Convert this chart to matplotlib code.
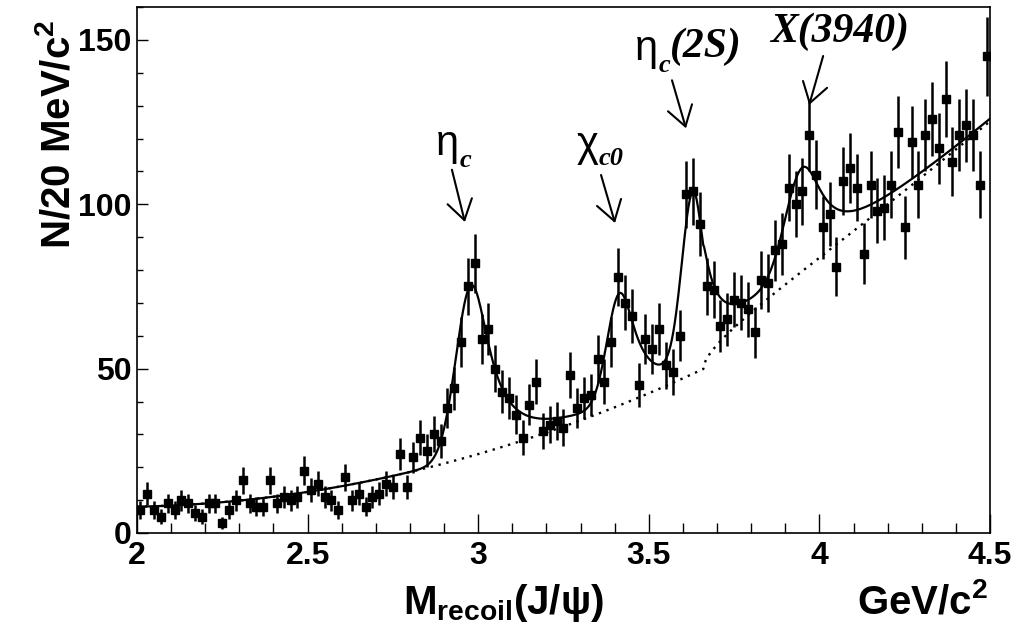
import numpy as np
import matplotlib
matplotlib.use("Agg")
import matplotlib.pyplot as plt

# ---- data: recoil mass against J/psi, 20 MeV/c^2 bins from 2.0 to 4.5 GeV/c^2
mass_lo, mass_hi, bin_width = 2.0, 4.5, 0.02
counts = [
    7, 12, 7, 5, 9, 7, 10, 9, 6, 5,
    9, 9, 3, 7, 10, 16, 9, 8, 8, 16,
    9, 11, 10, 11, 19, 13, 15, 11, 10, 7,
    17, 10, 12, 8, 11, 12, 15, 14, 24, 14,
    23, 29, 25, 30, 28, 38, 44, 58, 75, 82,
    59, 62, 50, 43, 41, 36, 29, 39, 46, 31,
    33, 34, 32, 48, 38, 41, 42, 53, 46, 58,
    78, 70, 66, 45, 59, 56, 62, 51, 49, 60,
    103, 104, 94, 75, 74, 63, 65, 71, 70, 68,
    61, 77, 76, 86, 88, 105, 100, 104, 121, 109,
    93, 97, 81, 107, 111, 105, 85, 106, 98, 99,
    106, 122, 93, 119, 106, 121, 126, 117, 132, 113,
    121, 124, 121, 106, 145,
]

# ---- fit model: polynomial background with an open-charm threshold term
bkg_poly = [8.0, 2.0, 14.0]          # coefficients in (M - 2)
threshold_mass, threshold_amp = 3.66, 27.0
# signal peaks: eta_c, chi_c0, eta_c(2S), X(3940)
peak_mass = [2.980, 3.415, 3.630, 3.950]
peak_amp = [52.0, 33.0, 53.0, 30.0]
peak_sigma_low = [0.045, 0.037, 0.033, 0.050]
peak_gamma_high = [0.13, 0.11, 0.085, 0.14]

W, H = 1026, 632
plt.rcParams["font.family"] = ["Liberation Sans", "DejaVu Sans"]
plt.rcParams["mathtext.fontset"] = "custom"
plt.rcParams["mathtext.rm"] = "Liberation Sans:bold"
plt.rcParams["mathtext.bf"] = "Liberation Sans:bold"
plt.rcParams["mathtext.it"] = "Liberation Sans:bold"


def background(m):
    t = m - 2.0
    val = sum(c * t ** i for i, c in enumerate(bkg_poly))
    return val + threshold_amp * np.sqrt(np.clip(m - threshold_mass, 0, None))


def peak(m, m0, amp, sig, gam):
    d = m - m0
    low = amp * np.exp(-0.5 * (d / sig) ** 2)
    high = amp / (1.0 + (2.0 * d / gam) ** 2)
    return np.where(d < 0, low, high)


def total(m):
    val = background(m)
    for m0, a, s, g in zip(peak_mass, peak_amp, peak_sigma_low, peak_gamma_high):
        val = val + peak(m, m0, a, s, g)
    return val


fig = plt.figure(figsize=(W / 100, H / 100), dpi=100)
ax = fig.add_axes([137 / W, 99 / H, 853 / W, 526 / H])

centers = mass_lo + bin_width * (np.arange(len(counts)) + 0.5)
y = np.array(counts, dtype=float)

mm = np.linspace(mass_lo, mass_hi, 1200)
ax.plot(mm, background(mm), color="black", lw=1.7, ls=(0, (1, 2.4)), zorder=2)
ax.plot(mm, total(mm), color="black", lw=1.6, zorder=4)
ax.errorbar(centers, y, yerr=np.sqrt(y), fmt="s", color="black", ms=5.8,
            elinewidth=1.8, capsize=0, zorder=3)

ax.set_xlim(mass_lo, mass_hi)
ax.set_ylim(0, 160)
ax.set_xticks([2, 2.5, 3, 3.5, 4, 4.5])
ax.set_xticklabels(["2", "2.5", "3", "3.5", "4", "4.5"])
ax.set_xticks(np.arange(2.0, 4.5001, 0.1), minor=True)
ax.set_yticks([0, 50, 100, 150])
ax.set_yticks(np.arange(0, 161, 10), minor=True)
ax.tick_params(axis="x", which="major", direction="in", length=14, width=1.0,
               labelsize=23, pad=6, top=False)
ax.tick_params(axis="x", which="minor", direction="in", length=7, width=1.0, top=False)
ax.tick_params(axis="y", which="major", direction="in", length=8, width=1.0,
               labelsize=23, pad=4, right=False)
ax.tick_params(axis="y", which="minor", direction="in", length=4, width=1.0, right=False)
for lab in ax.get_xticklabels() + ax.get_yticklabels():
    lab.set_fontweight("bold")
for sp in ax.spines.values():
    sp.set_linewidth(1.2)


def px(x, yy):
    return x / W, 1 - yy / H


# axis titles
fig.text(*px(503, 614), "M$_{recoil}$(J/\u03c8)", fontsize=29, fontweight="bold",
         ha="center", va="baseline")
fig.text(*px(988, 614), "GeV/c$^{2}$", fontsize=29, fontweight="bold",
         ha="right", va="baseline")
fig.text(*px(78, 134), "N/20 MeV/c$^{2}$", fontsize=29, fontweight="bold",
         rotation=90, ha="right", va="center")

# peak labels, built from runs of differently styled text
renderer = fig.canvas.get_renderer()
greek = dict(family="Liberation Sans", fontsize=30)
sub = dict(family="Liberation Serif", fontsize=19, fontweight="bold", style="italic")
big = dict(family="Liberation Serif", fontsize=30, fontweight="bold", style="italic")


def label_runs(x, base, parts):
    for s, style, dy in parts:
        t = fig.text(*px(x, base + dy), s, va="baseline", ha="left", **style)
        x += t.get_window_extent(renderer).width


label_runs(436, 155, [("\u03b7", greek, 0), ("c", sub, 12)])
label_runs(577, 156, [("\u03c7", greek, 0), ("c0", sub, 9)])
label_runs(635, 60, [("\u03b7", greek, 0), ("c", sub, 12), ("(2S)", big, -3)])
label_runs(770, 42, [("X(3940)", big, 0)])

# arrows pointing at each peak (data coordinates)
arrow_tail = [(2.923, 110.5), (3.360, 108.9), (3.568, 137.7), (4.011, 145.1)]
arrow_head = [(2.961, 94.6), (3.401, 94.3), (3.609, 123.1), (3.970, 130.2)]
for tail, head in zip(arrow_tail, arrow_head):
    ax.annotate("", xy=head, xytext=tail,
                arrowprops=dict(arrowstyle="->,head_length=0.7,head_width=0.45",
                                mutation_scale=20, lw=1.5, color="black",
                                shrinkA=0, shrinkB=0))

fig.savefig("out.png", dpi=100)
